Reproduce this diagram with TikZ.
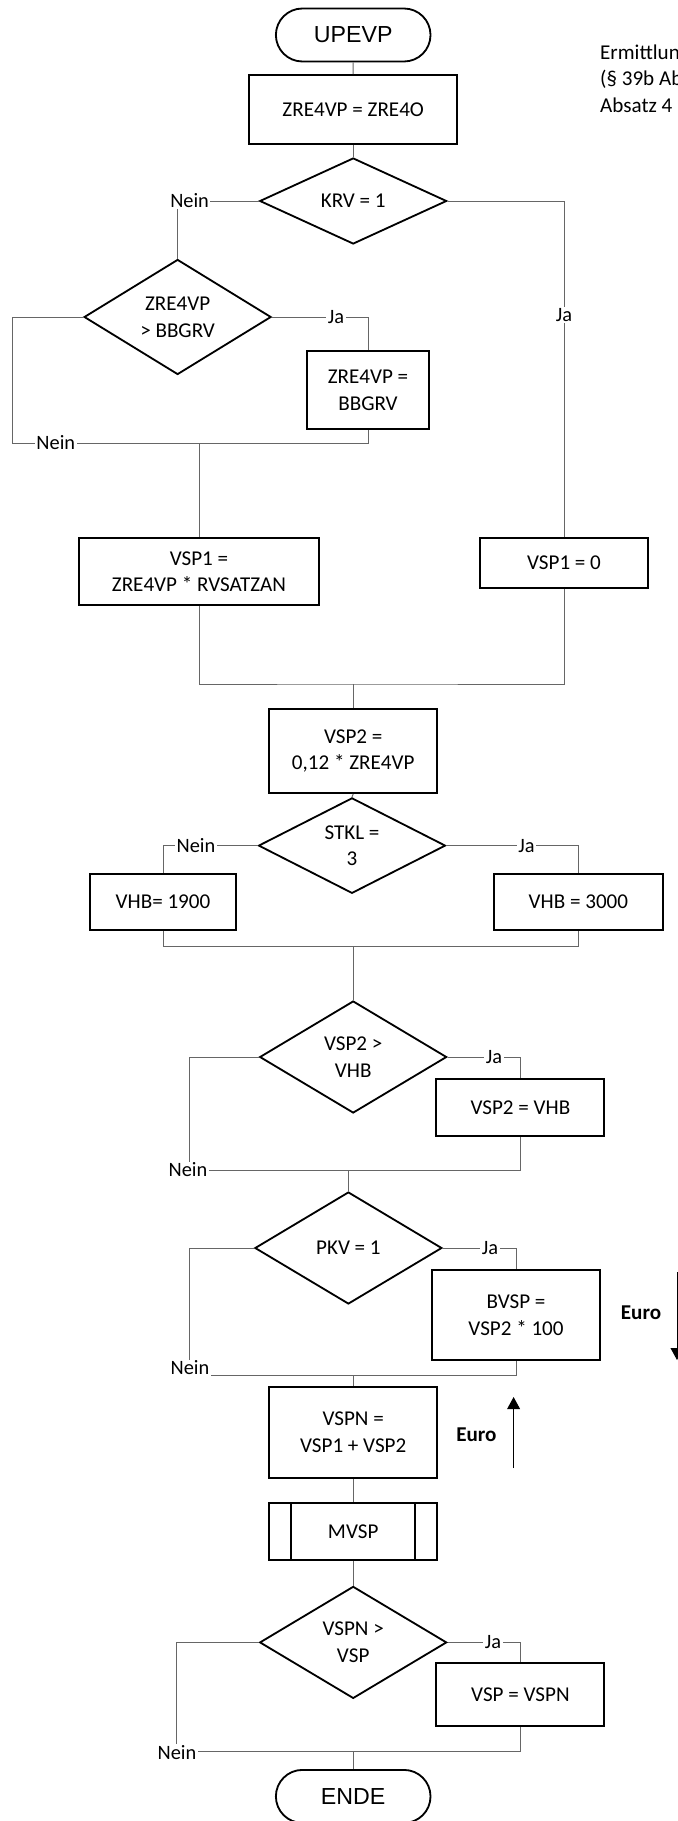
\documentclass[tikz,border=0pt]{standalone}
\usepackage{fontspec}
\setmainfont{Carlito}
\newfontfamily\termfont{Liberation Sans}
\usetikzlibrary{arrows.meta, positioning, shapes.geometric, shapes.misc}

\begin{document}
\begin{tikzpicture}[
  % Define styles for the flowchart elements
  box/.style={draw, line width=1.3pt, minimum width=4.2cm, align=center, font=\fontsize{15}{19}\selectfont},
  decision/.style={draw, diamond, line width=1.3pt, minimum width=4.675cm, minimum height=2.8cm, inner sep=0pt, align=center, font=\fontsize{15}{19}\selectfont},
  terminal/.style={draw, rounded rectangle, line width=1.3pt, minimum width=4.1cm, minimum height=1.325cm, font=\termfont\fontsize{16.5}{19}\selectfont},
  line/.style={draw=black!60, line width=0.7pt},
  answer/.style={fill=white, inner sep=1pt, font=\fontsize{14.5}{17}\selectfont},
  arrow/.style={-{Triangle[length=3mm, width=3.2mm]}, line width=0.7pt},
  note/.style={align=left, font=\fontsize{15}{19}\selectfont},
  euro/.style={font=\bfseries\fontsize{15}{18}\selectfont}
]

\useasboundingbox (0,0) rectangle (16.95,-45.525);
\clip (0,0) rectangle (16.95,-45.525);

% Start and first assignment
\node[terminal] (start) at (8.83,-0.875) {UPEVP};
\node[box, minimum width=5.2cm, minimum height=1.725cm] (init) at (8.83,-2.74) {ZRE4VP = ZRE4O};
\node[note, anchor=west] (title) at (14.88,-2.0) {Ermittlung der Vorsorgepauschale\\(§ 39b Absatz 2 Satz 5 Nummer 3 und\\Absatz 4 EStG)};

% Row 1: pension insurance part
\node[decision, minimum height=2.15cm] (krv) at (8.83,-5.025) {KRV = 1};
\node[decision] (bbg) at (4.44,-7.925) {ZRE4VP\\> BBGRV};
\node[box, minimum width=3.05cm, minimum height=1.95cm] (bbgset) at (9.2,-9.75) {ZRE4VP =\\BBGRV};
\node[box, minimum width=6cm, minimum height=1.675cm] (vsp1a) at (4.975,-14.29) {VSP1 =\\ZRE4VP * RVSATZAN};
\node[box, minimum height=1.25cm] (vsp1b) at (14.1,-14.075) {VSP1 = 0};

% Row 2: VSP2 and upper limit
\node[box, minimum height=2.1cm] (vsp2) at (8.83,-18.775) {VSP2 =\\0,12 * ZRE4VP};
\node[decision, minimum height=2.175cm] (stkl) at (8.8,-21.14) {STKL =\\3};
\node[box, minimum width=3.65cm, minimum height=1.4cm] (vhb1) at (4.075,-22.55) {VHB= 1900};
\node[box, minimum width=4.225cm, minimum height=1.4cm] (vhb2) at (14.46,-22.55) {VHB = 3000};
\node[decision] (vhbtest) at (8.83,-26.425) {VSP2 >\\VHB};
\node[box, minimum height=1.425cm] (vsp2set) at (13.01,-27.69) {VSP2 = VHB};

% Row 3: private health insurance
\node[decision] (pkv) at (8.71,-31.2) {PKV = 1};
\node[box, minimum height=2.25cm] (bvsp) at (12.9,-32.875) {BVSP =\\VSP2 * 100};
\node[box, minimum height=2.275cm] (vspn) at (8.83,-35.81) {VSPN =\\VSP1 + VSP2};
\node[box, minimum height=1.425cm] (mvsp) at (8.83,-38.29) {MVSP};
\node[decision] (vsptest) at (8.83,-41.06) {VSPN >\\VSP};
\node[box, minimum height=1.575cm] (vspset) at (13.01,-42.36) {VSP = VSPN};
\node[terminal] (ende) at (8.83,-44.91) {ENDE};

% Side bars of the sub-program box
\draw[line width=1.3pt] ([xshift=5.75mm]mvsp.north west) -- ([xshift=5.75mm]mvsp.south west);
\draw[line width=1.3pt] ([xshift=-5.75mm]mvsp.north east) -- ([xshift=-5.75mm]mvsp.south east);

% Connectors
\coordinate (krvNo) at (4.44,-5.025);
\coordinate (bbgNo) at (0.3,-11.075);
\coordinate (join2) at (8.83,-17.1);
\coordinate (join3) at (8.83,-23.65);
\coordinate (vhbNo) at (4.725,-29.27);
\coordinate (pkvNo) at (4.735,-34.39);
\coordinate (vspNo) at (4.4,-43.79);

\draw[line] (start) -- (init);
\draw[line] (init) -- (krv);
\draw[line] (krv.west) -- (krvNo) -- (bbg.north);
\draw[line] (krv.east) -| (vsp1b.north);
\draw[line] (bbg.east) -| (bbgset.north);
\draw[line] (bbg.west) -| (bbgNo) -| (bbgset.south);
\draw[line] (bbgNo -| vsp1a.north) -- (vsp1a.north);

\draw[line] (vsp1a.south) |- (join2) -| (vsp1b.south);
\draw[line] (join2) -- (vsp2.north);
\draw[line] (vsp2.south) -- (stkl.north);
\draw[line] (stkl.west) -| (vhb1.north);
\draw[line] (stkl.east) -| (vhb2.north);
\draw[line] (vhb1.south) |- (join3) -| (vhb2.south);
\draw[line] (join3) -- (vhbtest.north);
\draw[line] (vhbtest.east) -| (vsp2set.north);
\draw[line] (vhbtest.west) -| (vhbNo) -| (vsp2set.south);
\draw[line] (vhbNo -| pkv.north) -- (pkv.north);

\draw[line] (pkv.east) -| (bvsp.north);
\draw[line] (pkv.west) -| (pkvNo) -| (bvsp.south);
\draw[line] (pkvNo -| vspn.north) -- (vspn.north);
\draw[line] (vspn) -- (mvsp);
\draw[line] (mvsp) -- (vsptest);
\draw[line] (vsptest.east) -| (vspset.north);
\draw[line] (vsptest.west) -| (vspNo) -| (vspset.south);
\draw[line] (vspNo -| ende.north) -- (ende.north);

% Answer labels on the branches
\node[answer] (krvNein) at (4.74,-5.025) {Nein};
\node[answer] (krvJa) at (14.1,-7.875) {Ja};
\node[answer] (bbgJa) at (8.4,-7.925) {Ja};
\node[answer] (bbgNein) at (1.395,-11.075) {Nein};
\node[answer] (stklNein) at (4.9,-21.14) {Nein};
\node[answer] (stklJa) at (13.165,-21.14) {Ja};
\node[answer] (vhbJa) at (12.35,-26.425) {Ja};
\node[answer] (vhbNein) at (4.7,-29.25) {Nein};
\node[answer] (pkvJa) at (12.25,-31.2) {Ja};
\node[answer] (pkvNein) at (4.75,-34.2) {Nein};
\node[answer] (vspJa) at (12.325,-41.06) {Ja};
\node[answer] (vspNein) at (4.425,-43.82) {Nein};

% Currency arrows
\coordinate (euroUpFrom) at (12.84,-36.7);
\coordinate (euroUpTo) at (12.84,-34.925);
\draw[arrow] (euroUpFrom) -- (euroUpTo);
\node[euro] (euroUp) at (11.91,-35.875) {Euro};

\coordinate (euroDownFrom) at (16.925,-31.8);
\coordinate (euroDownTo) at (16.925,-34.0);
\draw[arrow] (euroDownFrom) -- (euroDownTo);
\node[euro] (euroDown) at (16.025,-32.825) {Euro};

\end{tikzpicture}
\end{document}
